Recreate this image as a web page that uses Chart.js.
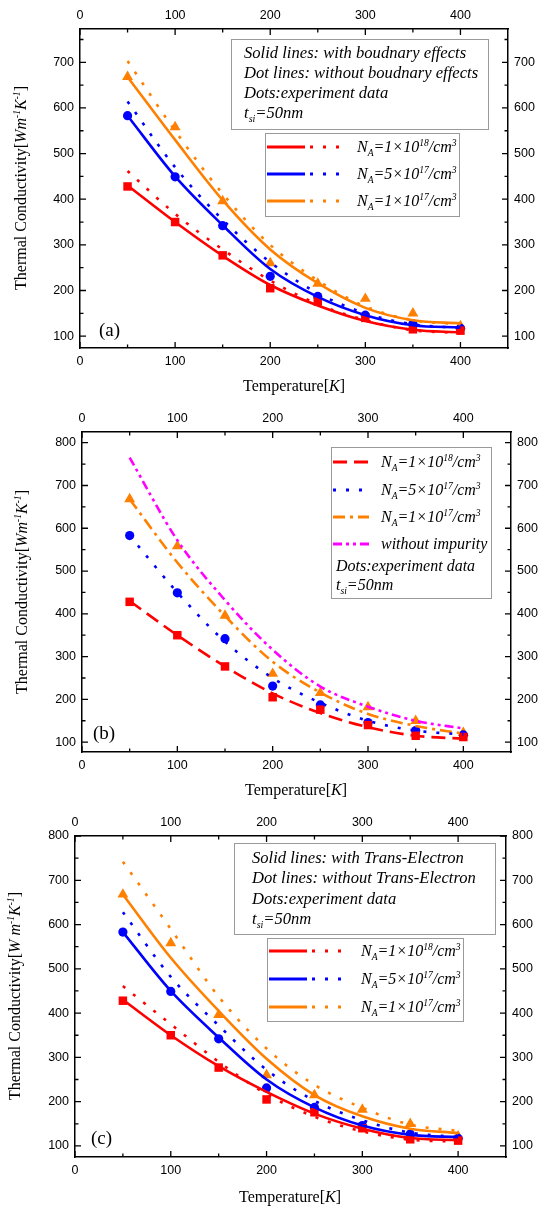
<!DOCTYPE html>
<html>
<head>
<meta charset="utf-8">
<title>Thermal Conductivity vs Temperature</title>
<script src="https://cdn.jsdelivr.net/npm/chart.js"></script>
<style>
    body { margin: 0; background: #fff; }
    #page { position: relative; width: 550px; height: 1212px; overflow: hidden; background: #fff; }
    canvas { position: absolute; left: 0; }
    .t { position: absolute; font-family: "Liberation Serif", "DejaVu Serif", serif; font-size: 16px; line-height: 20px; color: #000; white-space: nowrap; }
    .i { font-style: italic; }
    .note { font-size: 16.6px; }
    .box { position: absolute; box-sizing: border-box; border: 1px solid #9a9a9a; background: #fff; }
    .ytitle { width: 260px; text-align: center; transform: rotate(-90deg); }
    .xtitle { width: 200px; text-align: center; }
    .plabel { font-size: 19px; }
    sup { font-size: 0.6em; vertical-align: 0.65em; line-height: 0; }
    sub { font-size: 0.6em; vertical-align: -0.4em; line-height: 0; }
    #samples { position: absolute; left: 0; top: 0; }
</style>
</head>
<body>
<div id="page">
    <canvas id="chartA" width="550" height="400" style="top:0"></canvas>
    <canvas id="chartB" width="550" height="405" style="top:400px"></canvas>
    <canvas id="chartC" width="550" height="407" style="top:805px"></canvas>

    <!-- boxes -->
    <div class="box" style="left:231px;top:39px;width:258px;height:91px"></div>
    <div class="box" style="left:265px;top:133px;width:195px;height:84px"></div>
    <div class="box" style="left:331px;top:447px;width:161px;height:152px"></div>
    <div class="box" style="left:234px;top:843px;width:262px;height:92px"></div>
    <div class="box" style="left:267px;top:938px;width:197px;height:84px"></div>

    <svg id="samples" width="550" height="1212"></svg>

    <!-- panel (a) -->
    <div class="t ytitle" style="left:-109px;top:178px">Thermal Conductivity[<i>Wm<sup>-1</sup>K<sup>-1</sup></i>]</div>
    <div class="t xtitle" style="left:194px;top:376px">Temperature[<i>K</i>]</div>
    <div class="t plabel" style="left:99px;top:320px">(a)</div>
    <div class="t i note" style="left:244px;top:43px">Solid lines: with boudnary effects</div>
    <div class="t i note" style="left:244px;top:63px">Dot lines: without boudnary effects</div>
    <div class="t i note" style="left:244px;top:83px">Dots:experiment data</div>
    <div class="t i note" style="left:244px;top:103px">t<sub>si</sub>=50nm</div>
    <div class="t i" style="left:357px;top:137px">N<sub>A</sub>=1×10<sup>18</sup>/cm<sup>3</sup></div>
    <div class="t i" style="left:357px;top:164px">N<sub>A</sub>=5×10<sup>17</sup>/cm<sup>3</sup></div>
    <div class="t i" style="left:357px;top:191px">N<sub>A</sub>=1×10<sup>17</sup>/cm<sup>3</sup></div>

    <!-- panel (b) -->
    <div class="t ytitle" style="left:-108px;top:582px">Thermal Conductivity[<i>Wm<sup>-1</sup>K<sup>-1</sup></i>]</div>
    <div class="t xtitle" style="left:196px;top:780px">Temperature[<i>K</i>]</div>
    <div class="t plabel" style="left:93px;top:723px">(b)</div>
    <div class="t i" style="left:381px;top:452px">N<sub>A</sub>=1×10<sup>18</sup>/cm<sup>3</sup></div>
    <div class="t i" style="left:381px;top:480px">N<sub>A</sub>=5×10<sup>17</sup>/cm<sup>3</sup></div>
    <div class="t i" style="left:381px;top:507px">N<sub>A</sub>=1×10<sup>17</sup>/cm<sup>3</sup></div>
    <div class="t i" style="left:381px;top:534px">without impurity</div>
    <div class="t i" style="left:336px;top:556px">Dots:experiment data</div>
    <div class="t i" style="left:336px;top:575px">t<sub>si</sub>=50nm</div>

    <!-- panel (c) -->
    <div class="t ytitle" style="left:-115px;top:986px">Thermal Conductivity[<i>W m<sup>-1</sup>K<sup>-1</sup></i>]</div>
    <div class="t xtitle" style="left:190px;top:1187px">Temperature[<i>K</i>]</div>
    <div class="t plabel" style="left:91px;top:1128px">(c)</div>
    <div class="t i note" style="left:252px;top:848px">Solid lines: with Trans-Electron</div>
    <div class="t i note" style="left:252px;top:868px">Dot lines: without Trans-Electron</div>
    <div class="t i note" style="left:252px;top:889px">Dots:experiment data</div>
    <div class="t i note" style="left:252px;top:909px">t<sub>si</sub>=50nm</div>
    <div class="t i" style="left:361px;top:941px">N<sub>A</sub>=1×10<sup>18</sup>/cm<sup>3</sup></div>
    <div class="t i" style="left:361px;top:969px">N<sub>A</sub>=5×10<sup>17</sup>/cm<sup>3</sup></div>
    <div class="t i" style="left:361px;top:997px">N<sub>A</sub>=1×10<sup>17</sup>/cm<sup>3</sup></div>
</div>
<script>
    // temperatures (K) and axis ticks
    const temps = [50, 100, 150, 200, 250, 300, 350, 400];
    const xMajor = [0, 100, 200, 300, 400];
    const xMinor = [50, 150, 250, 350];
    const yMajorA = [100, 200, 300, 400, 500, 600, 700];
    const yMajorBC = [100, 200, 300, 400, 500, 600, 700, 800];
    const yMinor = [150, 250, 350, 450, 550, 650, 750];

    // experiment data (same dots in all panels)
    const expRed = [428, 350, 277, 205, 176, 140, 115, 112];
    const expBlue = [583, 449, 342, 231, 187, 146, 127, 117];
    const expOrange = [668, 558, 396, 260, 215, 182, 150, 122];

    // (a) boundary effects
    const aRedSolid = [430, 350, 276, 212, 167, 133, 114, 108];
    const aRedDot = [462, 368, 290, 222, 170, 135, 113, 107];
    const aBlueSolid = [583, 450, 343, 247, 186, 146, 124, 119];
    const aBlueDot = [614, 470, 355, 262, 194, 150, 126, 118];
    const aOrangeSolid = [668, 530, 398, 290, 216, 162, 135, 128];
    const aOrangeDot = [703, 550, 412, 300, 222, 165, 135, 126];

    // (b) impurity
    const bRed = [430, 350, 277, 214, 168, 135, 115, 108];
    const bBlue = [583, 450, 335, 250, 192, 150, 127, 118];
    const bOrange = [668, 520, 395, 288, 216, 166, 138, 120];
    const bMagenta = [765, 572, 432, 316, 230, 183, 150, 132];

    // (c) trans-electron
    const cRedSolid = [430, 350, 280, 222, 173, 139, 118, 113];
    const cRedDot = [461, 375, 290, 217, 166, 133, 114, 110];
    const cBlueSolid = [583, 450, 345, 250, 187, 146, 125, 120];
    const cBlueDot = [628, 482, 372, 272, 202, 158, 130, 120];
    const cOrangeSolid = [668, 525, 405, 297, 215, 167, 139, 129];
    const cOrangeDot = [742, 590, 437, 320, 238, 186, 148, 134];

    const RED = '#ff0000', BLUE = '#0000ff', ORANGE = '#ff8000', MAGENTA = '#ff00ff';
    const DOT = [3, 10], DASH = [14, 7], DASHDOT = [12, 5, 3, 5], DASHDOTDOT = [9, 4, 3, 4, 3, 4];

    const pts = ys => temps.map((t, i) => ({ x: t, y: ys[i] }));

    function curve(ys, color, dash) {
        return {
            data: pts(ys), showLine: true, borderColor: color, borderWidth: 2.6,
            borderDash: dash || [], pointRadius: 0, cubicInterpolationMode: 'monotone', fill: false
        };
    }

    function marks(ys, color, style, r) {
        return {
            data: pts(ys), showLine: false, pointStyle: style, pointRadius: r,
            backgroundColor: color, borderColor: color, borderWidth: 0
        };
    }

    function inwardTicks(yMajor) {
        return {
            id: 'inwardTicks',
            afterDraw(chart) {
                const { ctx, chartArea: a, scales } = chart;
                ctx.save();
                ctx.strokeStyle = '#000';
                ctx.lineWidth = 1.3;
                ctx.beginPath();
                const tx = (v, len) => {
                    const px = scales.x.getPixelForValue(v);
                    ctx.moveTo(px, a.bottom); ctx.lineTo(px, a.bottom - len);
                    ctx.moveTo(px, a.top); ctx.lineTo(px, a.top + len);
                };
                const ty = (v, len) => {
                    const py = scales.y.getPixelForValue(v);
                    ctx.moveTo(a.left, py); ctx.lineTo(a.left + len, py);
                    ctx.moveTo(a.right, py); ctx.lineTo(a.right - len, py);
                };
                xMajor.forEach(v => tx(v, 6));
                xMinor.forEach(v => tx(v, 3.5));
                yMajor.forEach(v => ty(v, 6));
                yMinor.forEach(v => ty(v, 3.5));
                ctx.stroke();
                ctx.restore();
            }
        };
    }

    function axis(pos, min, max, ticks, size) {
        const horiz = pos === 'top' || pos === 'bottom';
        return {
            type: 'linear', position: pos, min: min, max: max,
            grid: { display: false, drawTicks: false, drawOnChartArea: false },
            border: { display: true, color: '#000', width: 1.5 },
            ticks: { padding: 6, autoSkip: false, maxRotation: 0, color: '#000',
                     font: { family: 'Liberation Sans', size: 12.5 } },
            afterBuildTicks: s => { s.ticks = ticks.map(v => ({ value: v })); },
            afterFit: s => { if (horiz) s.height = size; else s.width = size; }
        };
    }

    function makeChart(id, datasets, box, yMin, yMax, yMajor) {
        new Chart(document.getElementById(id), {
            type: 'scatter',
            data: { datasets: datasets },
            options: {
                responsive: false,
                animation: false,
                layout: { padding: 0 },
                plugins: { legend: { display: false }, tooltip: { enabled: false } },
                scales: {
                    x: axis('bottom', 0, 450, xMajor, box.bottom),
                    x2: axis('top', 0, 450, xMajor, box.top),
                    y: axis('left', yMin, yMax, yMajor, box.left),
                    y2: axis('right', yMin, yMax, yMajor, box.right)
                }
            },
            plugins: [inwardTicks(yMajor)]
        });
    }

    const expMarks = () => [
        marks(expRed, RED, 'rect', 6),
        marks(expBlue, BLUE, 'circle', 4.6),
        marks(expOrange, ORANGE, 'triangle', 6.3)
    ];

    makeChart('chartA', [
        curve(aRedSolid, RED), curve(aRedDot, RED, DOT),
        curve(aBlueSolid, BLUE), curve(aBlueDot, BLUE, DOT),
        curve(aOrangeSolid, ORANGE), curve(aOrangeDot, ORANGE, DOT),
        ...expMarks()
    ], { left: 80, right: 42, top: 29, bottom: 52 }, 74, 773, yMajorA);

    makeChart('chartB', [
        curve(bRed, RED, DASH), curve(bBlue, BLUE, DOT),
        curve(bOrange, ORANGE, DASHDOT), curve(bMagenta, MAGENTA, DASHDOTDOT),
        ...expMarks()
    ], { left: 82, right: 39, top: 32, bottom: 53 }, 77, 825, yMajorBC);

    makeChart('chartC', [
        curve(cRedSolid, RED), curve(cRedDot, RED, DOT),
        curve(cBlueSolid, BLUE), curve(cBlueDot, BLUE, DOT),
        curve(cOrangeSolid, ORANGE), curve(cOrangeDot, ORANGE, DOT),
        ...expMarks()
    ], { left: 75, right: 44, top: 31, bottom: 55 }, 75, 800, yMajorBC);

    // legend line samples (page coordinates)
    const svg = document.getElementById('samples');
    function sample(x1, x2, y, color, dash) {
        const l = document.createElementNS('http://www.w3.org/2000/svg', 'line');
        l.setAttribute('x1', x1); l.setAttribute('x2', x2);
        l.setAttribute('y1', y); l.setAttribute('y2', y);
        l.setAttribute('stroke', color); l.setAttribute('stroke-width', 3);
        if (dash) l.setAttribute('stroke-dasharray', dash.join(' '));
        svg.appendChild(l);
    }
    [[147, RED], [174, BLUE], [201, ORANGE]].forEach(([y, c]) => {
        sample(267, 305, y, c); sample(310, 342, y, c, DOT);
    });
    [[462, RED, DASH], [490, BLUE, DOT], [517, ORANGE, DASHDOT], [544, MAGENTA, DASHDOTDOT]].forEach(([y, c, d]) => {
        sample(333, 369, y, c, d);
    });
    [[951, RED], [979, BLUE], [1007, ORANGE]].forEach(([y, c]) => {
        sample(269, 307, y, c); sample(312, 346, y, c, DOT);
    });
</script>
</body>
</html>
